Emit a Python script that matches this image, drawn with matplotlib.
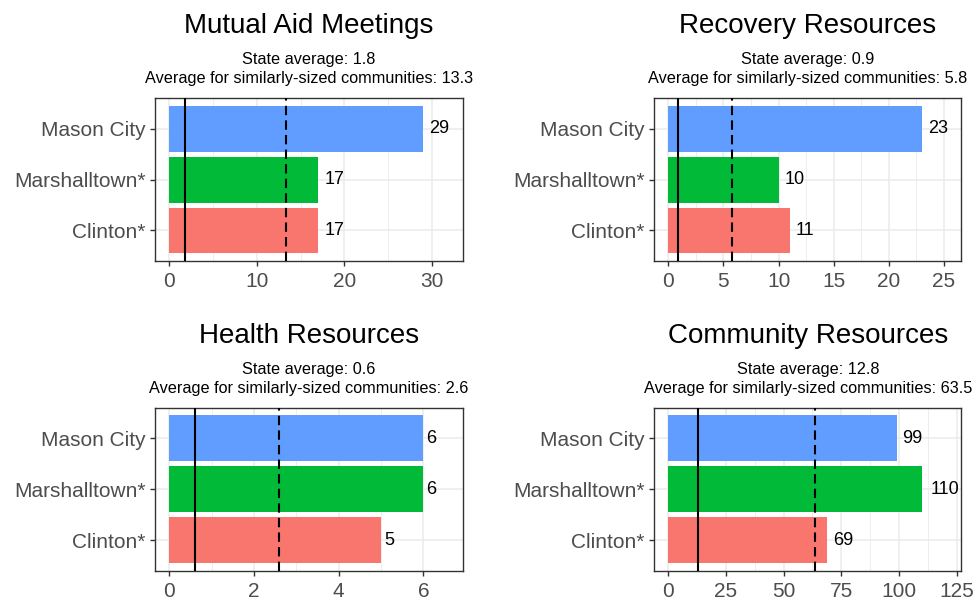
import matplotlib
matplotlib.use("Agg")
import matplotlib.pyplot as plt
from matplotlib.ticker import MultipleLocator

plt.rcParams["font.family"] = ["Liberation Sans", "DejaVu Sans"]

# DATA
towns = ["Clinton*", "Marshalltown*", "Mason City"]
town_colors = ["#F8766D", "#00BA38", "#619CFF"]

panel_titles = [
    "Mutual Aid Meetings",
    "Recovery Resources",
    "Health Resources",
    "Community Resources",
]

mutual_aid = [17, 17, 29]
recovery = [11, 10, 23]
health = [5, 6, 6]
community = [69, 110, 99]

state_avg = [1.8, 0.9, 0.6, 12.8]
similar_avg = [13.3, 5.8, 2.6, 63.5]

tick_steps = [10, 5, 2, 25]

# FIGURE
W, H = 976, 602
fig = plt.figure(figsize=(W / 100, H / 100), dpi=100)

# panel boxes in pixels: left, right, top, bottom
boxes = [
    (155.3, 462.7, 98.3, 261.0),
    (654.3, 961.3, 98.3, 261.0),
    (155.3, 462.7, 407.7, 570.7),
    (654.3, 961.3, 407.7, 570.7),
]

all_values = [mutual_aid, recovery, health, community]

label_size = 13

for i, values in enumerate(all_values):

    left, right, top, bottom = boxes[i]

    ax = fig.add_axes([
        left / W,
        1 - bottom / H,
        (right - left) / W,
        (bottom - top) / H,
    ])

    ypos = list(range(len(towns)))

    ax.barh(ypos, values, height=0.9, color=town_colors, zorder=2)

    # AVERAGE LINES
    ax.axvline(state_avg[i], color="black", lw=1.5, zorder=3)
    ax.axvline(similar_avg[i], color="black", lw=1.5,
               linestyle=(0, (4.5, 2.5)), zorder=3)

    # VALUE LABELS (hjust = -0.3 like ggplot)
    for y, v in zip(ypos, values):
        txt = str(v)
        offset = 0.3 * len(txt) * 0.556 * label_size
        ax.annotate(txt, (v, y), xytext=(offset, 0),
                    textcoords="offset points", va="center", ha="left",
                    fontsize=label_size, color="black", zorder=4)

    # LIMITS (ggplot style expansion)
    top_val = max(values) * 1.1
    ax.set_xlim(-0.05 * top_val, top_val * 1.05)
    ax.set_ylim(-0.6, len(towns) - 0.4)

    ax.xaxis.set_major_locator(MultipleLocator(tick_steps[i]))
    ax.xaxis.set_minor_locator(MultipleLocator(tick_steps[i] / 2))
    ax.set_yticks(ypos)
    ax.set_yticklabels(towns)

    ax.grid(which="major", color="#EBEBEB", lw=1.1, zorder=0)
    ax.grid(which="minor", axis="x", color="#EBEBEB", lw=0.6, zorder=0)
    ax.set_axisbelow(True)

    for s in ax.spines.values():
        s.set_color("#333333")
        s.set_linewidth(1.0)

    ax.tick_params(axis="both", which="major", length=3.8, width=1.0,
                   color="#333333", labelcolor="#4D4D4D", labelsize=15,
                   pad=3)
    ax.tick_params(axis="x", which="major", pad=4)
    ax.tick_params(axis="both", which="minor", length=0)

    # TITLES
    cx = (left + right) / 2 / W
    fig.text(cx, 1 - (top - 65) / H, panel_titles[i],
             ha="center", va="baseline", fontsize=20, color="black")
    fig.text(cx, 1 - (top - 34) / H,
             f"State average: {state_avg[i]}",
             ha="center", va="baseline", fontsize=11.7, color="black")
    fig.text(cx, 1 - (top - 15) / H,
             f"Average for similarly-sized communities: {similar_avg[i]}",
             ha="center", va="baseline", fontsize=11.7, color="black")

fig.savefig("out.png", dpi=100, facecolor="white")
